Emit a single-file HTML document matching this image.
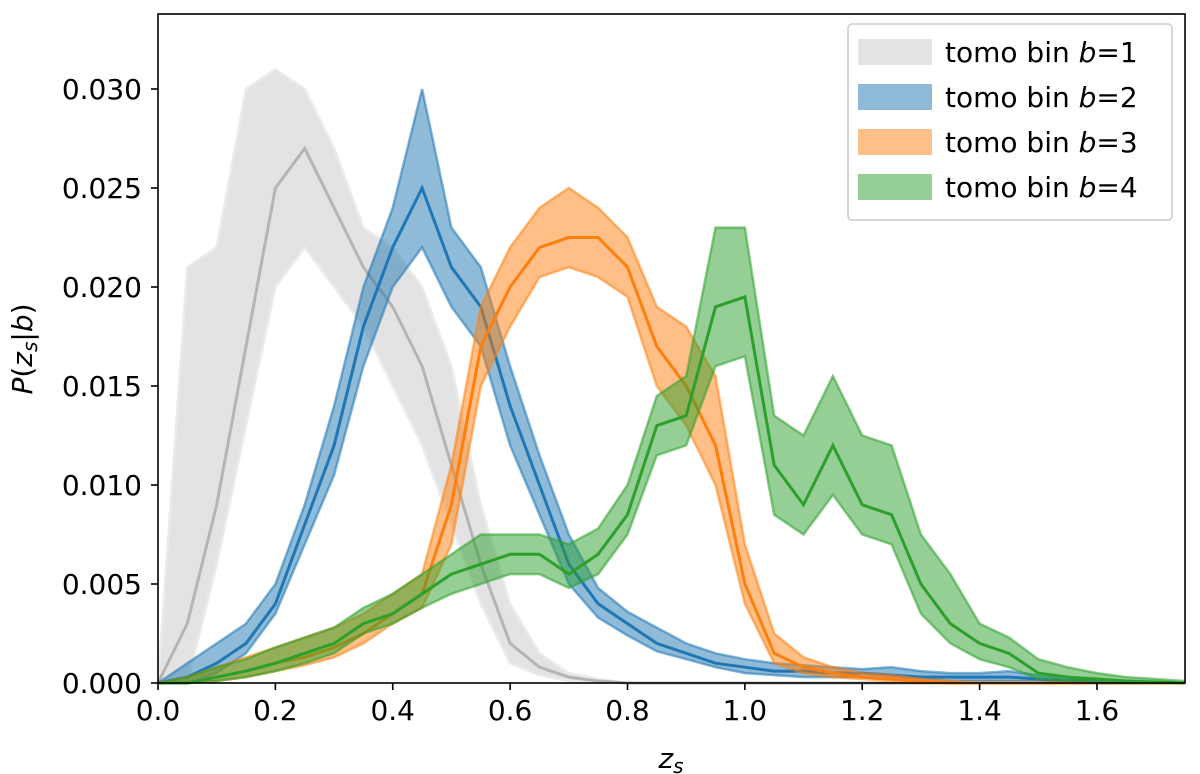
<!DOCTYPE html>
<html><head><meta charset="utf-8"><style>
body{margin:0;background:#fff;}
svg{display:block;font-family:"DejaVu Sans","Liberation Sans",sans-serif;}
</style></head><body>
<svg id="chart" width="1200" height="774">
<g id="plot"></g>
<g id="axes"></g>
<g id="legend"></g>
</svg>
<script>
const zGrid=[0,0.05,0.1,0.15,0.2,0.25,0.3,0.35,0.4,0.45,0.5,0.55,0.6,0.65,0.7,0.75,0.8,0.85,0.9,0.95,1.0,1.05,1.1,1.15,1.2,1.25,1.3,1.35,1.4,1.45,1.5,1.55,1.6,1.65,1.7,1.75];
const med1=[0,0.003,0.009,0.017,0.025,0.027,0.024,0.021,0.019,0.016,0.011,0.006,0.002,0.0008,0.0003,0.0001,0,0,0,0,0,0,0,0,0,0,0,0,0,0,0,0,0,0,0,0];
const lo1=[0,0,0.006,0.013,0.02,0.022,0.02,0.018,0.015,0.012,0.008,0.004,0.001,0.0004,0.0001,0,0,0,0,0,0,0,0,0,0,0,0,0,0,0,0,0,0,0,0,0];
const hi1=[0,0.021,0.022,0.03,0.031,0.03,0.027,0.023,0.022,0.02,0.016,0.009,0.004,0.0015,0.0005,0.0002,0,0,0,0,0,0,0,0,0,0,0,0,0,0,0,0,0,0,0,0];
const med2=[0,0.0003,0.001,0.002,0.004,0.008,0.012,0.018,0.022,0.025,0.021,0.019,0.014,0.01,0.006,0.004,0.003,0.002,0.0015,0.001,0.0008,0.0006,0.0006,0.0005,0.0005,0.0004,0.0003,0.0003,0.0003,0.0003,0.0002,0.0001,0.0001,0,0,0];
const lo2=[0,0,0.0005,0.0015,0.0035,0.007,0.0105,0.016,0.02,0.022,0.019,0.017,0.012,0.0085,0.005,0.0033,0.0024,0.0016,0.0012,0.0008,0.0005,0.0004,0.0003,0.0003,0.0003,0.0002,0.0002,0.0001,0.0001,0.0001,0.0001,0,0,0,0,0];
const hi2=[0,0.001,0.002,0.003,0.005,0.009,0.014,0.02,0.024,0.03,0.023,0.021,0.016,0.0115,0.0075,0.0048,0.0036,0.0028,0.002,0.0015,0.0012,0.001,0.0009,0.0008,0.0007,0.0008,0.0006,0.0005,0.0005,0.0006,0.0004,0.0002,0.0002,0.0001,0,0];
const med3=[0,0,0.0003,0.0006,0.001,0.0013,0.0018,0.0025,0.0035,0.0045,0.009,0.017,0.02,0.022,0.0225,0.0225,0.021,0.017,0.015,0.012,0.005,0.0015,0.0008,0.0005,0.0003,0.0002,0.0001,0,0,0,0,0,0,0,0,0];
const lo3=[0,0,0.0001,0.0003,0.0006,0.0009,0.0013,0.002,0.003,0.0038,0.007,0.015,0.018,0.0205,0.021,0.0205,0.0195,0.015,0.013,0.01,0.004,0.001,0.0005,0.0003,0.0002,0.0001,0,0,0,0,0,0,0,0,0,0];
const hi3=[0,0.0003,0.0008,0.0013,0.0018,0.0023,0.0028,0.0035,0.0045,0.0055,0.011,0.019,0.022,0.024,0.025,0.024,0.0225,0.019,0.018,0.0155,0.007,0.0025,0.0013,0.0008,0.0005,0.0004,0.0002,0.0001,0,0,0,0,0,0,0,0];
const med4=[0,0,0.0003,0.0006,0.001,0.0015,0.002,0.003,0.0035,0.0045,0.0055,0.006,0.0065,0.0065,0.0055,0.0065,0.0085,0.013,0.0135,0.019,0.0195,0.011,0.009,0.012,0.009,0.0085,0.005,0.003,0.002,0.0015,0.0005,0.0003,0.0002,0.0001,0.00005,0];
const lo4=[0,0,0.0001,0.0003,0.0006,0.001,0.0015,0.0025,0.003,0.0038,0.0045,0.005,0.0055,0.0055,0.0048,0.0055,0.0075,0.0115,0.012,0.016,0.0165,0.0085,0.0075,0.0095,0.0075,0.007,0.0035,0.002,0.0012,0.0008,0.0002,0.0001,0,0,0,0];
const hi4=[0,0.0003,0.0008,0.0012,0.0018,0.0023,0.0028,0.0038,0.0045,0.0055,0.0065,0.0075,0.0075,0.0075,0.007,0.0078,0.01,0.0145,0.0155,0.023,0.023,0.0135,0.0125,0.0155,0.0125,0.012,0.0075,0.0055,0.003,0.0023,0.0012,0.0008,0.0005,0.0003,0.0002,0.0001];
const xTicks=[0.0,0.2,0.4,0.6,0.8,1.0,1.2,1.4,1.6];
const yTicks=[0,0.005,0.01,0.015,0.02,0.025,0.03];
const legendLabels=["1","2","3","4"];

const L=158,R=1185,T=14,B=683;
const X=z=>L+z/1.75*(R-L);
const Y=p=>B-p/0.005*99;
const NS="http://www.w3.org/2000/svg";
function mk(tag,attrs,parent){const e=document.createElementNS(NS,tag);for(const k in attrs)e.setAttribute(k,attrs[k]);parent.appendChild(e);return e;}
const plot=document.getElementById('plot'),axes=document.getElementById('axes'),leg=document.getElementById('legend');
const bins=[
 {m:med1,lo:lo1,hi:hi1,band:'#e3e3e3',line:'#b5b5b5',edge:'#ebebeb',n:'1'},
 {m:med2,lo:lo2,hi:hi2,band:'rgba(31,119,180,0.5)',line:'#1f77b4',edge:'rgba(31,119,180,0.55)',n:'2'},
 {m:med3,lo:lo3,hi:hi3,band:'rgba(255,127,14,0.5)',line:'#ff7f0e',edge:'rgba(255,127,14,0.55)',n:'3'},
 {m:med4,lo:lo4,hi:hi4,band:'rgba(44,160,44,0.5)',line:'#2ca02c',edge:'rgba(44,160,44,0.55)',n:'4'}];
const pts=a=>a.map((v,i)=>X(zGrid[i]).toFixed(1)+','+Y(v).toFixed(1)).join(' ');
bins.forEach(b=>{
 const g=mk('g',{},plot);
 
 
 const band=mk('polygon',{points:pts(b.hi)+' '+b.lo.map((v,i)=>X(zGrid[i]).toFixed(1)+','+Y(v).toFixed(1)).reverse().join(' '),fill:b.band},g);
 
 
 [b.lo,b.hi].forEach((a,j)=>{const e=mk('polyline',{points:pts(a),fill:'none',stroke:b.edge,'stroke-width':2.5},g);
  
  });
 const m=mk('polyline',{points:pts(b.m),fill:'none',stroke:b.line,'stroke-width':3},g);
 
 
});
const frame=mk('rect',{x:L,y:T,width:R-L,height:B-T,fill:'none',stroke:'#000','stroke-width':1.6},axes);


xTicks.forEach(t=>{const x=X(t);mk('line',{x1:x,x2:x,y1:B,y2:B+7,stroke:'#000','stroke-width':1.6},axes);
 const tx=mk('text',{x:x,y:B+37,'text-anchor':'middle','font-size':28},axes);tx.textContent=t.toFixed(1);
 
 });
yTicks.forEach(t=>{const y=Y(t);mk('line',{x1:L-7,x2:L,y1:y,y2:y,stroke:'#000','stroke-width':1.6},axes);
 const tx=mk('text',{x:L-16,y:y+10,'text-anchor':'end','font-size':28},axes);tx.textContent=t.toFixed(3);
 
 });
const xl=mk('text',{x:671,y:768,'text-anchor':'middle','font-size':28,'font-style':'italic'},axes);
xl.innerHTML='z<tspan font-size="20" dy="5">s</tspan>';


const yl=mk('text',{transform:'translate(32,349) rotate(-90)','text-anchor':'middle','font-size':28},axes);
yl.innerHTML='<tspan font-style="italic">P</tspan>(<tspan font-style="italic">z</tspan><tspan font-size="20" dy="5" font-style="italic">s</tspan><tspan dy="-5">|</tspan><tspan font-style="italic">b</tspan>)';


const lb=mk('rect',{x:848,y:24,width:324,height:196,rx:4,fill:'rgba(255,255,255,0.85)',stroke:'#ccc','stroke-width':1.5},leg);


const patchCol=['#e3e3e3','#8fbbd9','#ffbf86','#95cf95'];
legendLabels.forEach((lab,i)=>{const y=52+i*45;
 const g=mk('g',{},leg);
 
 
 mk('rect',{x:858,y:y-13,width:74,height:26,fill:patchCol[i]},g);
 const t=mk('text',{x:945,y:y+10,'font-size':28},g);
 t.innerHTML='tomo bin <tspan font-style="italic">b</tspan>='+lab;});
</script>
</body></html>
